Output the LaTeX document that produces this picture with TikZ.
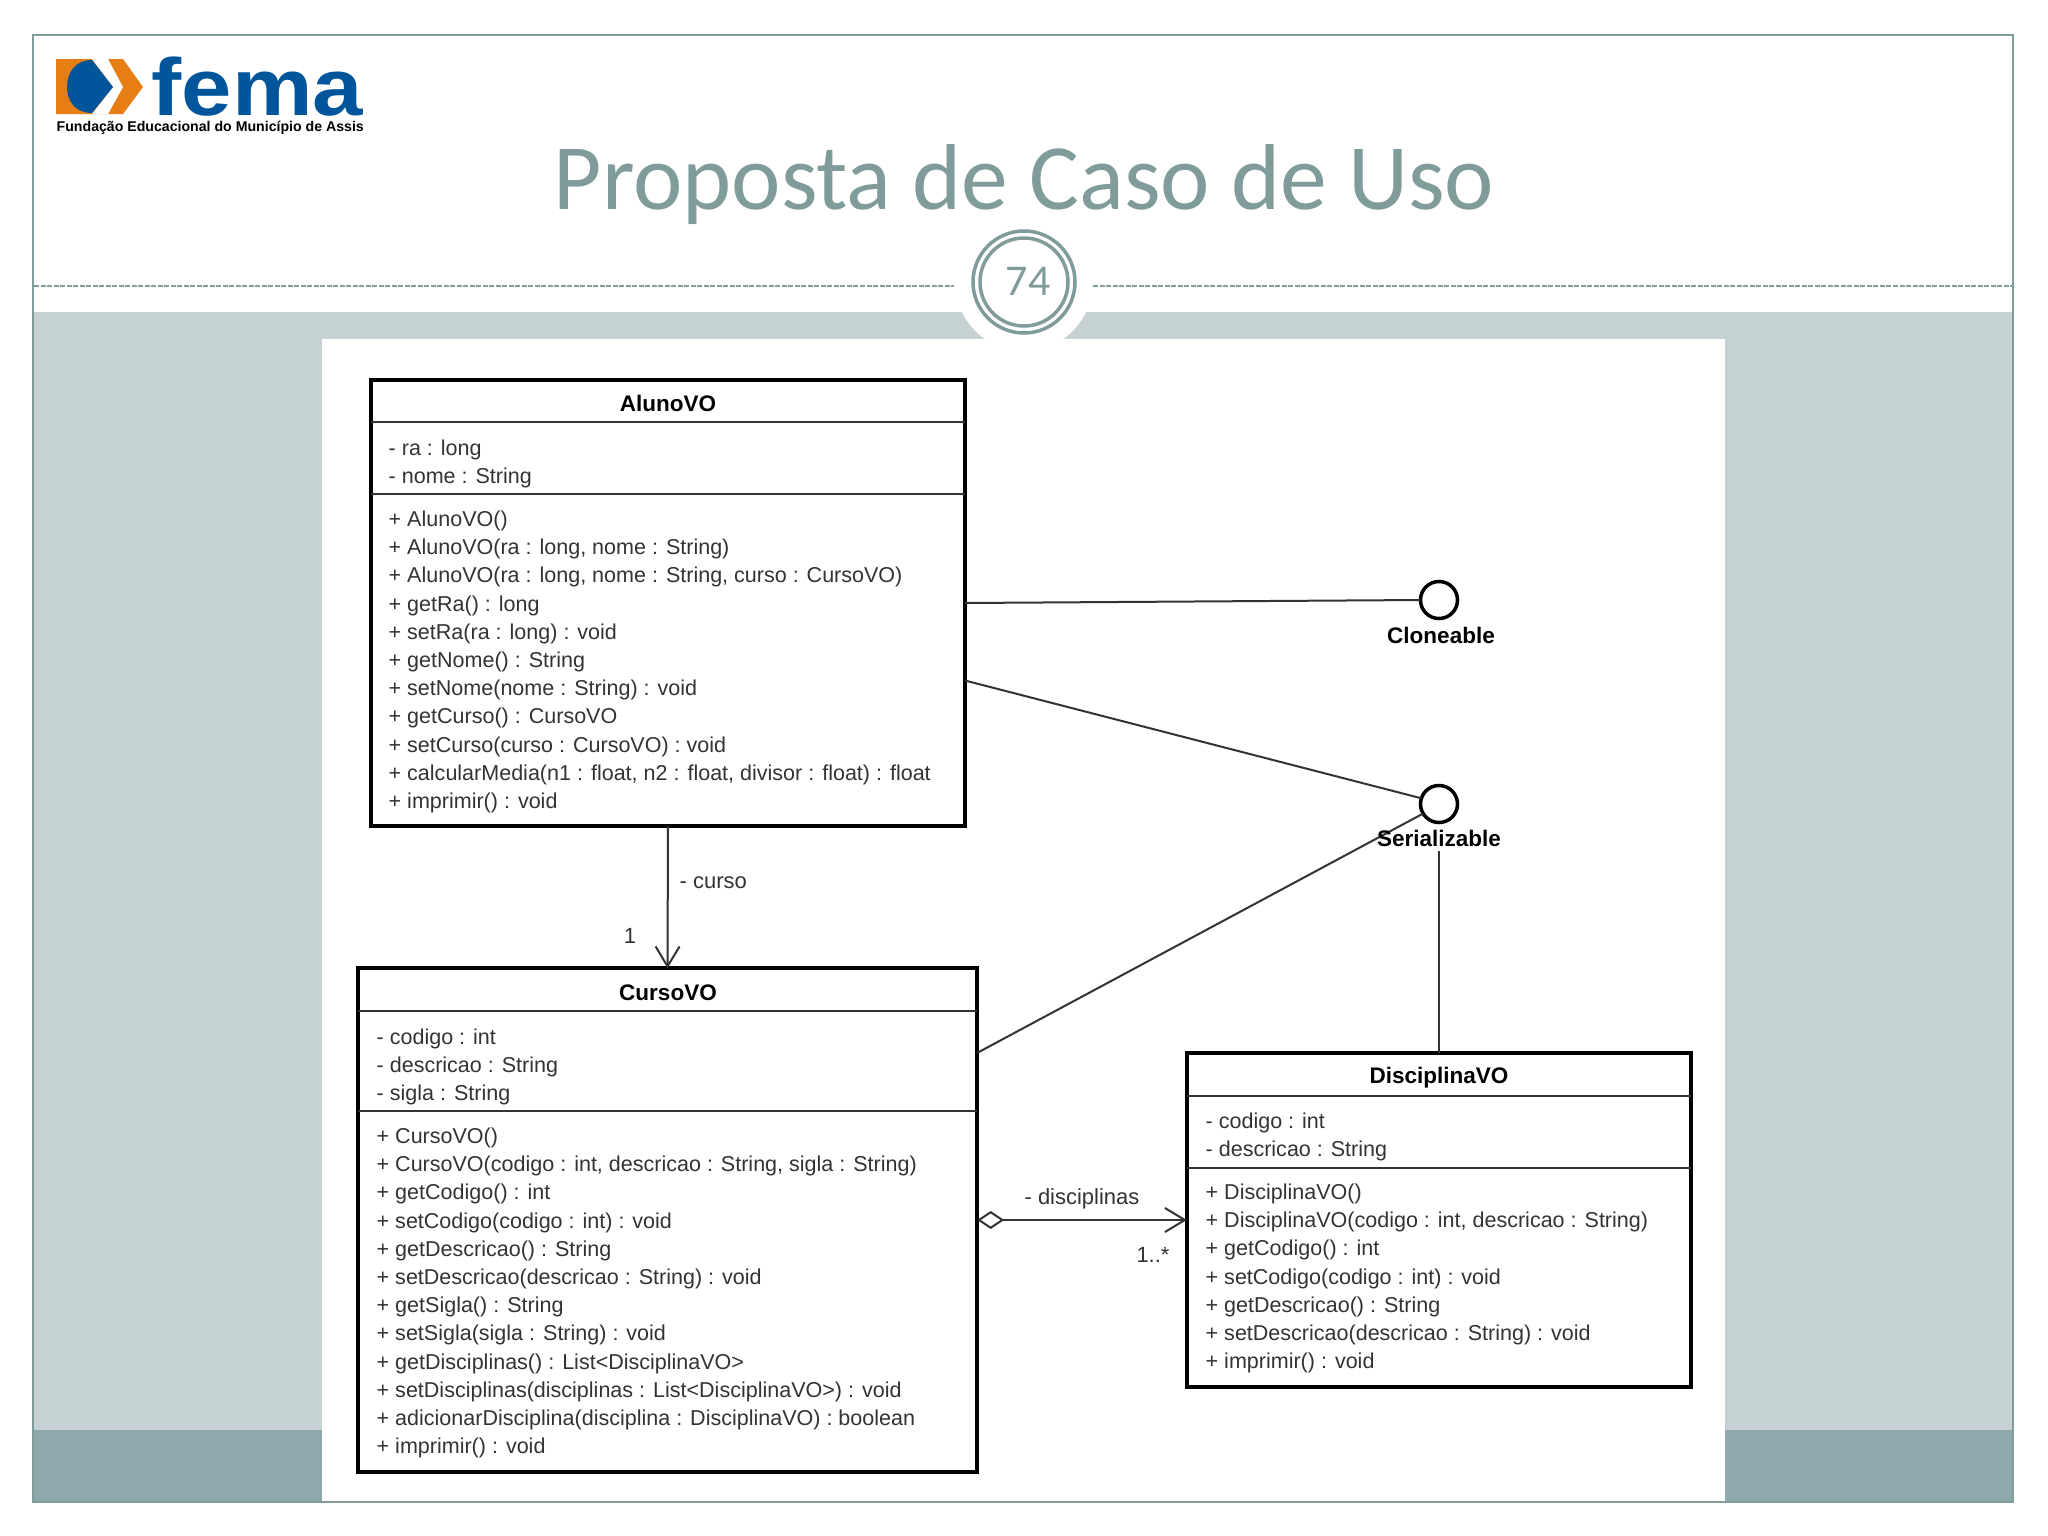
\documentclass[tikz,border=0pt]{standalone}
\usepackage{fontspec}
\usepackage{tikz}
\usetikzlibrary{arrows.meta}
\newfontfamily\umlfamily{Liberation Sans}
\newfontfamily\logofamily[FakeStretch=1.12]{Liberation Sans}
\newfontfamily\slidefamily{Carlito}
\definecolor{slidegreen}{HTML}{7F9C9A}
\definecolor{bandlight}{HTML}{C5D1D3}
\definecolor{banddark}{HTML}{8EA9AB}
\definecolor{femablue}{HTML}{00559B}
\definecolor{femaorange}{HTML}{E67E14}
\definecolor{umlgrey}{HTML}{333333}
\tikzset{
  umlbox/.style={draw=black,line width=.04cm,fill=white,inner sep=0pt,outer sep=0pt},
  umlsep/.style={draw=umlgrey,line width=.02cm},
  umlline/.style={draw=umlgrey,line width=.02cm},
  umlrows/.style={anchor=north west,align=left,inner sep=0pt,text=umlgrey,
    font=\umlfamily\fontsize{6.12pt}{8.03pt}\selectfont},
  umlhead/.style={inner sep=0pt,text=black,font=\umlfamily\bfseries\fontsize{6.4pt}{8pt}\selectfont},
  umllabel/.style={inner sep=0pt,text=umlgrey,font=\umlfamily\fontsize{6.25pt}{8pt}\selectfont},
  lollipop/.style={circle,draw=black,line width=.035cm,fill=white,minimum size=.37cm,inner sep=0pt,outer sep=0pt},
  barb/.style={-{Straight Barb[length=.2cm,width=.24cm]}}
}
\begin{document}
\begin{tikzpicture}[x=.01cm,y=-.01cm]
\useasboundingbox (0,0) rectangle (2048,1536);

% slide
\fill[bandlight] (33,312) rectangle (2013,1430);
\fill[banddark] (33,1430) rectangle (2013,1502);
\fill[white] (322,339) rectangle (1725,1536);
\fill[white] (1024,282) circle (69);
\draw[slidegreen,line width=.02cm] (33,35) rectangle (2013,1502);
\draw[slidegreen,line width=.02cm,dash pattern=on .05cm off .015cm] (34,286) -- (954,286);
\draw[slidegreen,line width=.02cm,dash pattern=on .05cm off .015cm] (1093,286) -- (2012,286);
\draw[slidegreen,line width=.035cm] (1024,282) circle (51);
\draw[slidegreen,line width=.035cm] (1024,282) circle (44);
\node[text=slidegreen,inner sep=0pt,font=\slidefamily\fontsize{12.5pt}{14pt}\selectfont] (pagenum) at (1028,281) {74};
\node[text=slidegreen,inner sep=0pt,font=\slidefamily\fontsize{26.6pt}{30pt}\selectfont] (title) at (1024,185) {Proposta de Caso de Uso};

% logo
\fill[femaorange] (56,59) -- (123,59) -- (143,87) -- (123,114) -- (56,114) -- cycle;
\fill[white] (92,59) -- (108,59) -- (123,87) -- (108,114) -- (92,114) -- (113,87) -- cycle;
\fill[femablue] (92,60) .. controls (75,60) and (67,73) .. (67,87) .. controls (67,101) and (75,113) .. (92,113) -- (113,87) -- cycle;
\node[anchor=base west,inner sep=0pt,text=femablue,font=\logofamily\bfseries\fontsize{23pt}{28pt}\selectfont] (femaname) at (151,115) {fema};
\node[anchor=west,inner sep=0pt,text=black,font=\umlfamily\bfseries\fontsize{4.02pt}{4.5pt}\selectfont] (femafull) at (56,127.5) {Fundação Educacional do Município de Assis};

% classes
\node[umlbox,minimum width=5.94cm,minimum height=4.46cm] (aluno) at (668,603) {};
\node[umlbox,minimum width=6.19cm,minimum height=5.03cm] (curso) at (667.5,1220) {};
\node[umlbox,minimum width=5.04cm,minimum height=3.34cm] (disc) at (1439,1220) {};

\draw[umlsep] (371,422) -- (965,422);
\draw[umlsep] (371,494) -- (965,494);
\draw[umlsep] (358,1011) -- (977,1011);
\draw[umlsep] (358,1111) -- (977,1111);
\draw[umlsep] (1187,1096) -- (1691,1096);
\draw[umlsep] (1187,1168) -- (1691,1168);

\node[umlhead] (alunoname) at (668,403) {AlunoVO};
\node[umlhead] (cursoname) at (668,993) {CursoVO};
\node[umlhead] (discname) at (1439,1078) {DisciplinaVO};

\node[umlrows] (alunoattr) at (388,439) {- ra : long\\- nome : String};
\node[umlrows] (alunometh) at (388,510) {+ AlunoVO()\\
+ AlunoVO(ra : long, nome : String)\\
+ AlunoVO(ra : long, nome : String, curso : CursoVO)\\
+ getRa() : long\\
+ setRa(ra : long) : void\\
+ getNome() : String\\
+ setNome(nome : String) : void\\
+ getCurso() : CursoVO\\
+ setCurso(curso : CursoVO) : void\\
+ calcularMedia(n1 : float, n2 : float, divisor : float) : float\\
+ imprimir() : void};

\node[umlrows] (cursoattr) at (376,1028) {- codigo : int\\- descricao : String\\- sigla : String};
\node[umlrows] (cursometh) at (376,1127) {+ CursoVO()\\
+ CursoVO(codigo : int, descricao : String, sigla : String)\\
+ getCodigo() : int\\
+ setCodigo(codigo : int) : void\\
+ getDescricao() : String\\
+ setDescricao(descricao : String) : void\\
+ getSigla() : String\\
+ setSigla(sigla : String) : void\\
+ getDisciplinas() : List<DisciplinaVO>\\
+ setDisciplinas(disciplinas : List<DisciplinaVO>) : void\\
+ adicionarDisciplina(disciplina : DisciplinaVO) : boolean\\
+ imprimir() : void};

\node[umlrows] (discattr) at (1205,1112) {- codigo : int\\- descricao : String};
\node[umlrows] (discmeth) at (1205,1183) {+ DisciplinaVO()\\
+ DisciplinaVO(codigo : int, descricao : String)\\
+ getCodigo() : int\\
+ setCodigo(codigo : int) : void\\
+ getDescricao() : String\\
+ setDescricao(descricao : String) : void\\
+ imprimir() : void};

% interfaces
\node[lollipop] (cloneable) at (1439,600) {};
\node[lollipop] (serial) at (1439,804) {};
\coordinate (alunoport) at (965,680.5);
\coordinate (cursoport) at (977,1053);

\draw[umlline] (aluno.east) -- (cloneable.west);
\draw[umlline] (alunoport) -- (serial.162);
\draw[umlline] (cursoport) -- (serial.211);

\node[umlhead] (cloneablename) at (1441,635) {Cloneable};
\node[umlhead] (serialname) at (1439,838) {Serializable};
\draw[umlline] (serialname.south) ++(0,4) -- (disc.north);

\draw[umlline,barb] (aluno.south) -- (curso.north);
\draw[umlline,{Diamond[open,length=.27cm,width=.18cm]}-{Straight Barb[length=.2cm,width=.24cm]}] (curso.east) -- (disc.west);

\node[umllabel,anchor=west] (cursorole) at (679,883) {- curso};
\node[umllabel] (cursomult) at (630,936) {1};
\node[umllabel] (discrole) at (1082,1199) {- disciplinas};
\node[umllabel] (discmult) at (1153,1255) {1..*};

\end{tikzpicture}
\end{document}
